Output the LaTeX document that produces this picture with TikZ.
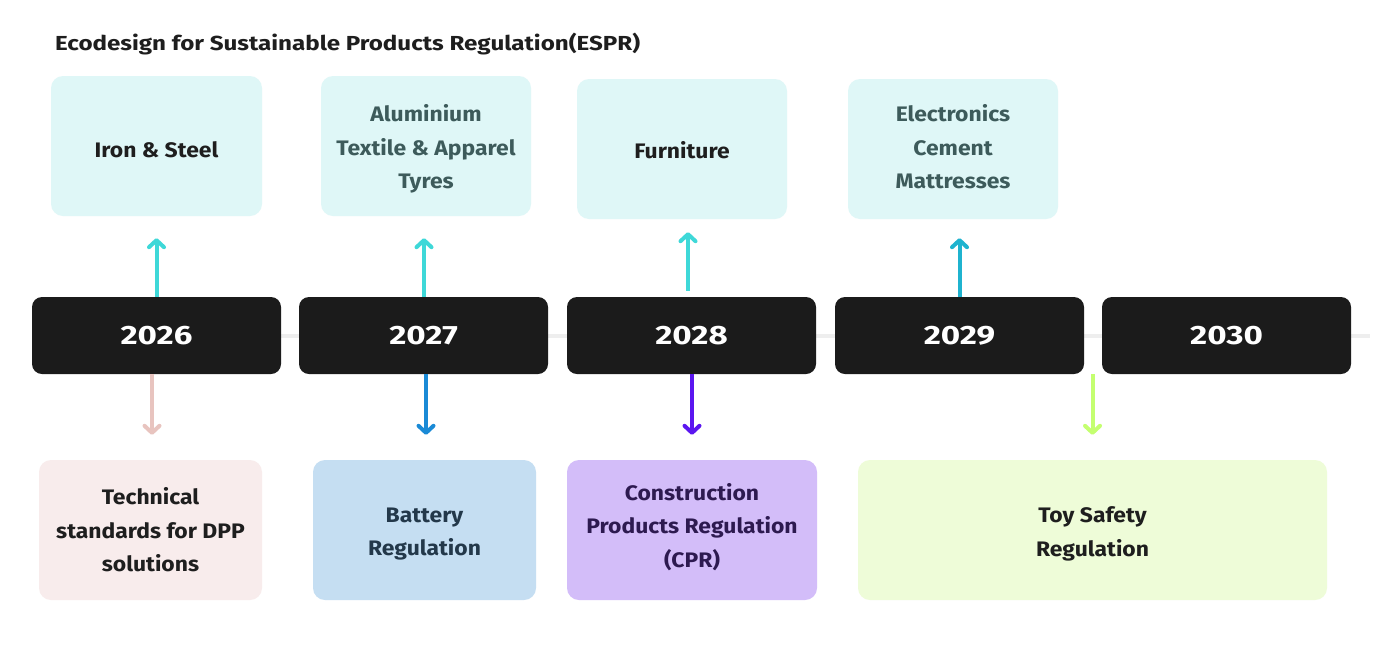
\documentclass[tikz,border=0pt]{standalone}
\usepackage{fontspec}
\setmainfont{Fira Sans}
\newfontfamily\titlefont{Fira Sans}[FakeStretch=1.19]
\newfontfamily\boxfont{Fira Sans}[FakeStretch=1.09]
\newfontfamily\yearfont{Fira Sans}[FakeStretch=1.25]
\usetikzlibrary{arrows.meta,calc}
\definecolor{yearbg}{HTML}{1B1B1B}
\definecolor{topbg}{HTML}{DFF7F7}
\definecolor{tline}{HTML}{EEEEEE}
\definecolor{aup}{HTML}{3ED8D8}
\definecolor{aup2}{HTML}{1FB3CF}
\definecolor{apink}{HTML}{E8C4BF}
\definecolor{ablue}{HTML}{1A8AD6}
\definecolor{aviolet}{HTML}{5B16F0}
\definecolor{agreen}{HTML}{C4FF70}
\definecolor{b1bg}{HTML}{F8ECEC}
\definecolor{b2bg}{HTML}{C5DEF2}
\definecolor{b3bg}{HTML}{D3BDF9}
\definecolor{b4bg}{HTML}{EEFCD8}
\definecolor{tdark}{HTML}{1E1E1E}
\definecolor{tgrey}{HTML}{3D5B5B}
\definecolor{tslate}{HTML}{23384A}
\definecolor{tpurple}{HTML}{2D1A50}
\begin{document}
\begin{tikzpicture}[x=1pt,y=-1pt,
  yearbox/.style={fill=yearbg,rounded corners=10pt,minimum width=249pt,minimum height=77pt,inner sep=0pt,text=white,font=\yearfont\fontsize{26.5}{32}\selectfont\bfseries},
  infobox/.style={rounded corners=12pt,inner sep=0pt,minimum height=140pt},
  boxtext/.style={inner sep=0pt,align=center,font=\boxfont\fontsize{21}{33.5}\selectfont\bfseries},
  arr/.style={line width=4pt,-{Straight Barb[length=7pt,width=15pt,line cap=round,line join=round]}},
]
\useasboundingbox (0,0) rectangle (1396,646);
\fill[white] (0,0) rectangle (1396,646);
% title
\node[anchor=west,inner sep=0pt,text=tdark,font=\titlefont\fontsize{20.3}{24}\selectfont\bfseries] (title) at (55,44.5) {Ecodesign for Sustainable Products Regulation(ESPR)};
% timeline
\coordinate (linestart) at (40,336);
\coordinate (lineend) at (1370,336);
\draw[tline,line width=4pt] (linestart) -- (lineend);
% year boxes
\node[yearbox] (y26) at (156.5,335.5) {2026};
\node[yearbox] (y27) at (423.5,335.5) {2027};
\node[yearbox] (y28) at (691.5,335.5) {2028};
\node[yearbox] (y29) at (959.5,335.5) {2029};
\node[yearbox] (y30) at (1226.5,335.5) {2030};
% top boxes
\node[infobox,fill=topbg,minimum width=211pt] (t26) at (156.5,146) {};
\node[boxtext,text=tdark] (t26x) at ([yshift=-4pt]t26.center) {Iron \& Steel};
\node[infobox,fill=topbg,minimum width=210pt] (t27) at (426,146) {};
\node[boxtext,text=tgrey] (t27x) at ([yshift=-3pt]t27.center) {Aluminium\\Textile \& Apparel\\Tyres};
\node[infobox,fill=topbg,minimum width=210pt] (t28) at (682,149) {};
\node[boxtext,text=tdark] (t28x) at ([yshift=-1pt]t28.center) {Furniture};
\node[infobox,fill=topbg,minimum width=210pt] (t29) at (953,149) {};
\node[boxtext,text=tgrey] (t29x) at ([yshift=2pt]t29.center) {Electronics\\Cement\\Mattresses};
% bottom boxes
\node[infobox,fill=b1bg,minimum width=223pt] (b26) at (150.5,530) {};
\node[boxtext,text=tdark] (b26x) at (b26.center) {Technical\\standards for DPP\\solutions};
\node[infobox,fill=b2bg,minimum width=223pt] (b27) at (424.5,530) {};
\node[boxtext,text=tslate] (b27x) at ([yshift=-4pt]b27.center) {Battery\\Regulation};
\node[infobox,fill=b3bg,minimum width=250pt] (b28) at (692,530) {};
\node[boxtext,text=tpurple] (b28x) at ([yshift=3pt]b28.center) {Construction\\Products Regulation\\(CPR)};
\node[infobox,fill=b4bg,minimum width=469pt] (b29) at (1092.5,530) {};
\node[boxtext,text=tdark] (b29x) at ([yshift=-4pt]b29.center) {Toy Safety\\Regulation};
% up arrows
\draw[arr,aup,shorten >=22pt] (y26.north) -- (y26.north |- t26.south);
\draw[arr,aup,shorten >=22pt] (y27.north -| 424,0) -- (t27.south -| 424,0);
\draw[arr,aup,shorten <=6pt,shorten >=13pt] (y28.north -| 688,0) -- (t28.south -| 688,0);
\draw[arr,aup2,shorten >=19pt] (y29.north) -- (y29.north |- t29.south);
% down arrows
\draw[arr,apink,shorten >=25pt] (y26.south -| 152,0) -- (b26.north -| 152,0);
\draw[arr,ablue,shorten >=25pt] (y27.south -| 426,0) -- (b27.north -| 426,0);
\draw[arr,aviolet,shorten >=25pt] (y28.south -| b28.north) -- (b28.north);
\draw[arr,agreen,shorten >=25pt] (y29.south -| b29.north) -- (b29.north);
\end{tikzpicture}
\end{document}
